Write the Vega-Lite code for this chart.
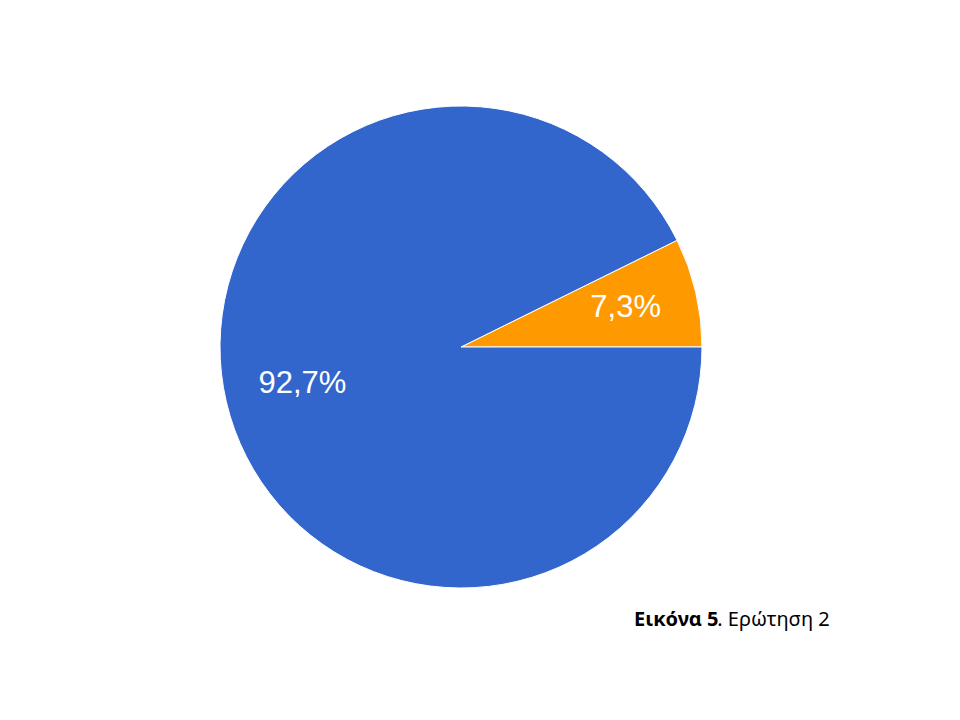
{
  "$schema": "https://vega.github.io/schema/vega-lite/v6.json",
  "width": 922,
  "height": 694,
  "autosize": "none",
  "padding": 0,
  "background": "white",
  "view": {"stroke": null},
  "data": {"values": [
    {"answer": "B", "value": 7.3, "label": "7,3%", "ord": 1},
    {"answer": "A", "value": 92.7, "label": "92,7%", "ord": 2}
  ]},
  "title": {
    "text": "Εικόνα 5",
    "subtitle": "\u200b\u00a0\u00a0\u00a0\u00a0\u00a0\u00a0\u00a0\u00a0\u00a0\u00a0\u00a0\u00a0\u00a0\u00a0\u00a0\u00a0. Ερώτηση 2",
    "anchor": "start",
    "orient": "top",
    "frame": "group",
    "offset": 0,
    "dx": 634,
    "dy": 630,
    "font": "Noto Sans",
    "fontSize": 20,
    "fontWeight": "bold",
    "color": "#000000",
    "subtitleFont": "Noto Sans",
    "subtitleFontSize": 20,
    "subtitleFontWeight": "normal",
    "subtitleColor": "#000000",
    "subtitlePadding": -20
  },
  "encoding": {
    "theta": {"field": "value", "type": "quantitative", "stack": true,
      "scale": {"range": [1.1121, 7.3953]}},
    "order": {"field": "ord", "type": "quantitative"}
  },
  "layer": [
    {
      "mark": {"type": "arc", "outerRadius": 241, "stroke": "white", "strokeWidth": 1},
      "encoding": {
        "color": {"field": "answer", "type": "nominal",
          "scale": {"domain": ["A", "B"], "range": ["#3366cc", "#ff9900"]}, "legend": null}
      }
    },
    {
      "mark": {"type": "text", "radius": 166, "dx": 3, "dy": -1, "font": "Liberation Sans", "fontSize": 31, "fill": "white", "baseline": "middle", "align": "center"},
      "encoding": {"text": {"field": "label"}}
    }
  ]
}
